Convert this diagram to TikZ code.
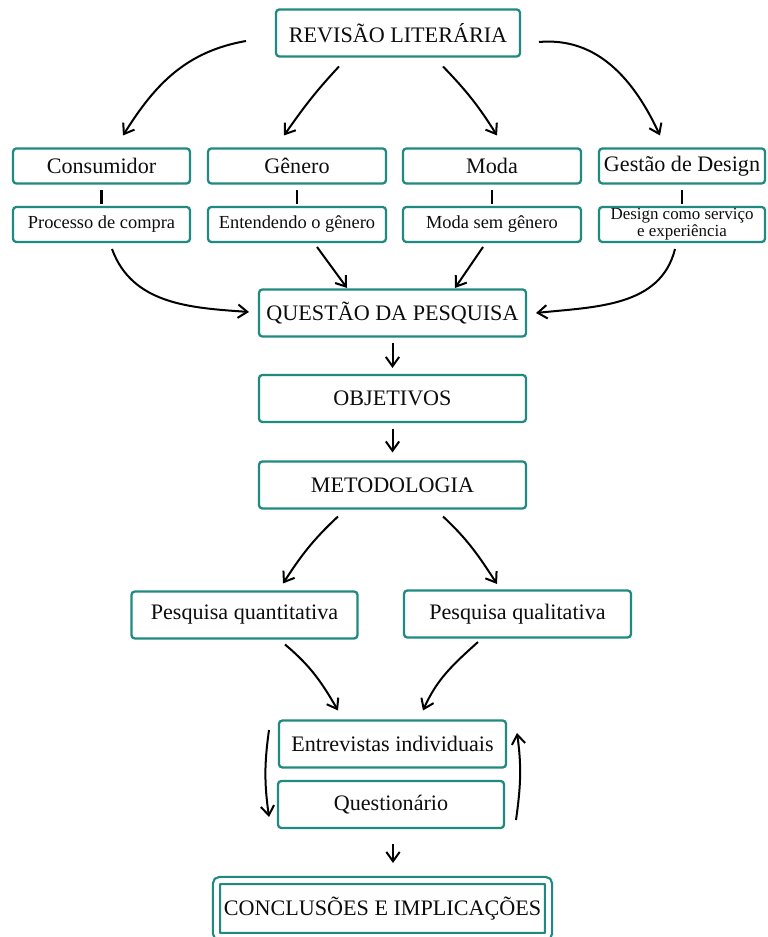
\documentclass[tikz,border=0pt]{standalone}
\usepackage{fontspec}
\setmainfont{Liberation Serif}
\usetikzlibrary{arrows.meta,calc}
\definecolor{boxteal}{HTML}{1F8A80}
\tikzset{
  box/.style = {draw=boxteal, line width=1.7pt, rounded corners=2.5pt,
                inner sep=0pt, outer sep=0pt, align=center,
                text=black!95, minimum width=#1*0.75pt},
  box/.default = 180,
  catbox/.style = {minimum height=35*0.75pt},
  stagebox/.style = {minimum height=47*0.75pt},
  big/.style = {font=\fontsize{16.6}{19}\selectfont},
  small/.style = {font=\fontsize{13.8}{16}\selectfont},
  tiny/.style = {font=\fontsize{12.7}{11.5}\selectfont},
  arr/.style = {-{Straight Barb[length=7pt,width=10pt]}, line width=1.5pt},
  link/.style = {line width=1.6pt}
}

\begin{document}
\begin{tikzpicture}[x=0.75pt, y=0.75pt]
	\useasboundingbox (0,0) rectangle (767,937);

	% Top
	\node[box=244, stagebox, big] (rev) at (398,904) {REVISÃO LITERÁRIA};

	% Themes
	\node[box=177, catbox, big] (cons) at (101.5,771) {Consumidor};
	\node[box=178, catbox, big] (gen)  at (297,771)   {Gênero};
	\node[box=178, catbox, big] (moda) at (492,771)   {Moda};
	\node[box=166, catbox, big] (gest) at (682,771)   {Gestão de Design};

	% Sub themes
	\node[box=177, catbox, small] (subcons) at (101.5,712.5) {Processo de compra};
	\node[box=178, catbox, small] (subgen)  at (297,712.5)   {Entendendo o gênero};
	\node[box=178, catbox, small] (submoda) at (492,712.5)   {Moda sem gênero};
	\node[box=166, catbox, tiny]  (subgest) at (682,712.5)   {Design como serviço\\e experiência};

	% Research steps
	\node[box=267, stagebox, big] (quest)   at (392.5,624)   {QUESTÃO DA PESQUISA};
	\node[box=267, stagebox, big] (obj)     at (392.5,538.5) {OBJETIVOS};
	\node[box=267, stagebox, big] (met)     at (392.5,452)   {METODOLOGIA};
	\node[box=226, stagebox, big] (quant)   at (244.5,322)   {Pesquisa quantitativa};
	\node[box=227, stagebox, big] (qual)    at (517.5,323)   {Pesquisa qualitativa};
	\node[box=227, stagebox, big] (entr)    at (392.5,193)   {Entrevistas individuais};
	\node[box=226, stagebox, big] (questio) at (391,132.5)   {Questionário};
	\node[box=332, big, double=white, double distance=3.5pt,
	      minimum height=56*0.75pt] (concl) at (382.5,28.5) {CONCLUSÕES E IMPLICAÇÕES};

	% Revision to themes
	\draw[arr] ($(rev.west)+(-30,-8)$)   to[out=190,in=58]  ($(cons.north)+(21.5,13)$);
	\draw[arr] ($(rev.south)+(-59,-10)$) to[out=227,in=55]  ($(gen.north)+(-13,13)$);
	\draw[arr] ($(rev.south)+(45,-10)$)  to[out=314,in=122] ($(moda.north)+(5,13)$);
	\draw[arr] ($(rev.east)+(19,-9)$)    to[out=5,in=115]   ($(gest.north)+(-22,13)$);

	% Theme links
	\foreach \n in {cons,gen,moda,gest}
		\draw[link] ($(\n.south)+(0,-7)$) -- ($(sub\n.north)+(0,3)$);

	% Themes to question
	\draw[arr] ($(subcons.south)+(10.5,-7)$) to[out=290,in=176] ($(quest.west)+(-10,1)$);
	\draw[arr] ($(subgen.south)+(20,-5)$)  -- ($(quest.north)+(-45.5,1.5)$);
	\draw[arr] ($(submoda.south)+(-9,-5)$) -- ($(quest.north)+(62.5,1.5)$);
	\draw[arr] ($(subgest.south)+(-7,-7)$) to[out=256,in=6]   ($(quest.east)+(10,0)$);

	% Steps
	\draw[arr] ($(quest.south)+(0,-7)$) -- ($(obj.north)+(0,7)$);
	\draw[arr] ($(obj.south)+(0,-7)$)   -- ($(met.north)+(0,9)$);

	% Methods
	\draw[arr] ($(met.south)+(-54.5,-8)$)  to[out=223,in=57]  ($(quant.north)+(38.5,8)$);
	\draw[arr] ($(met.south)+(50.5,-8)$)   to[out=317,in=123] ($(qual.north)+(-20.5,6.5)$);
	\draw[arr] ($(quant.south)+(40.5,-6)$) to[out=320,in=120] ($(entr.north)+(-54.5,10)$);
	\draw[arr] ($(qual.south)+(-39.5,-4.5)$) to[out=222,in=66] ($(entr.north)+(30.5,10)$);

	% Loop
	\draw[arr] ($(entr.west)+(-10,14)$)      to[out=262,in=98] ($(questio.west)+(-9,-12.5)$);
	\draw[arr] ($(questio.east)+(12,-15.5)$) to[out=82,in=278] ($(entr.east)+(11,11)$);

	% Conclusion
	\draw[arr] ($(questio.south)+(2,-16)$) -- ($(concl.north)+(10.5,17.5)$);

\end{tikzpicture}
\end{document}
